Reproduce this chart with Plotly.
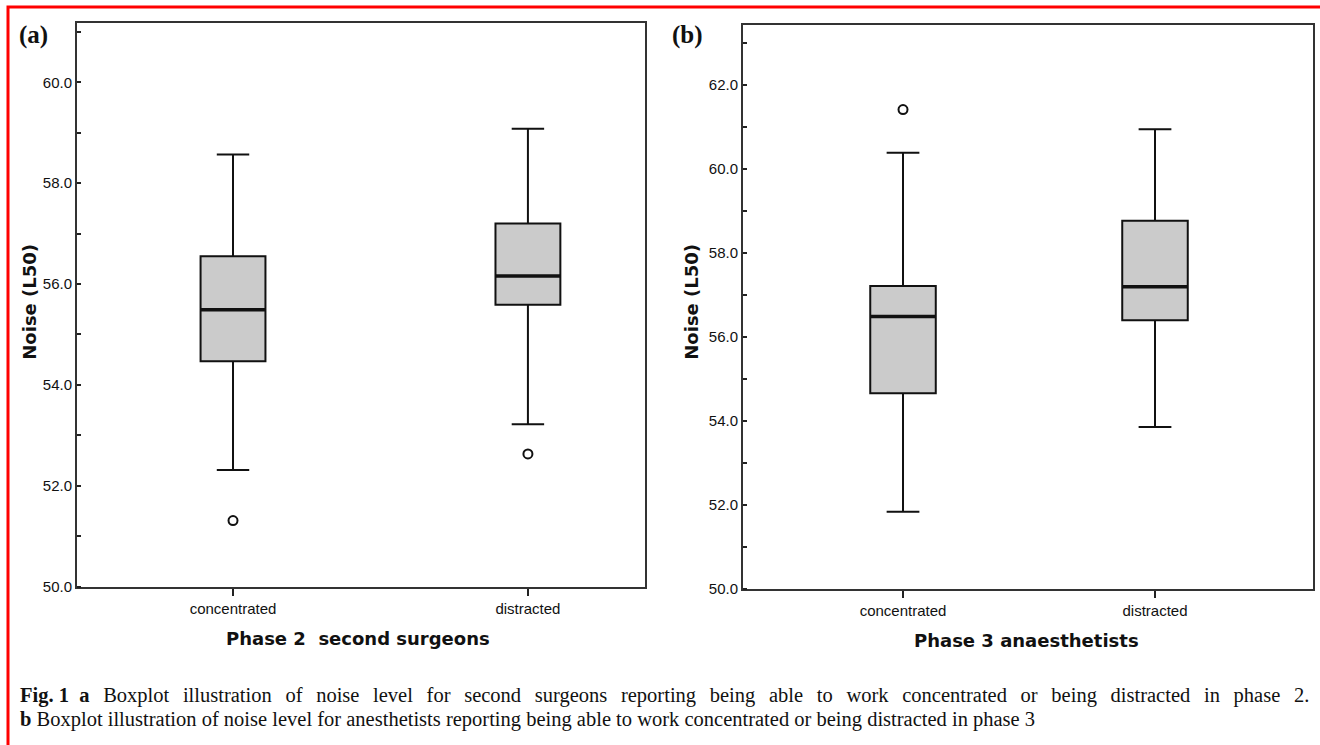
import plotly.graph_objects as go

# ---- data ----
categories = ["concentrated", "distracted"]

# Panel (a): Phase 2 second surgeons
a_q1 = [54.47, 55.59]
a_median = [55.49, 56.16]
a_q3 = [56.55, 57.20]
a_low = [52.31, 53.22]
a_high = [58.57, 59.08]
a_out_x = [0, 1]
a_out_y = [51.31, 52.63]

# Panel (b): Phase 3 anaesthetists
b_q1 = [54.65, 56.39]
b_median = [56.48, 57.19]
b_q3 = [57.21, 58.76]
b_low = [51.83, 53.85]
b_high = [60.38, 60.94]
b_out_x = [0]
b_out_y = [61.41]

y_ticks_a = [50, 52, 54, 56, 58, 60]
y_ticks_b = [50, 52, 54, 56, 58, 60, 62]

BOX_FILL = "#cbcbcb"
LINE = "#111111"
W_A = 0.22
W_B = 0.26

fig = go.Figure()


def add_panel(xa, ya, q1, med, q3, lo, hi, ox, oy, w):
    pos = list(range(len(categories)))
    fig.add_trace(go.Box(
        x=pos, q1=q1, median=med, q3=q3, lowerfence=lo, upperfence=hi,
        width=w, whiskerwidth=0.5, fillcolor=BOX_FILL,
        line=dict(color=LINE, width=2), boxpoints=False,
        xaxis=xa, yaxis=ya, showlegend=False, hoverinfo="skip"))
    for i, m in enumerate(med):
        fig.add_trace(go.Scatter(
            x=[i - w / 2, i + w / 2], y=[m, m], mode="lines",
            line=dict(color=LINE, width=3.5), xaxis=xa, yaxis=ya,
            showlegend=False, hoverinfo="skip"))
    fig.add_trace(go.Scatter(
        x=ox, y=oy, mode="markers",
        marker=dict(symbol="circle-open", size=9, color=LINE, line=dict(width=2)),
        xaxis=xa, yaxis=ya, showlegend=False, hoverinfo="skip"))


add_panel("x", "y", a_q1, a_median, a_q3, a_low, a_high, a_out_x, a_out_y, W_A)
add_panel("x2", "y2", b_q1, b_median, b_q3, b_low, b_high, b_out_x, b_out_y, W_B)

tick_font = dict(family="Liberation Sans, Arial, sans-serif", size=15, color="#111")
frame = dict(showline=True, linecolor="#333", linewidth=2, mirror=True,
             showgrid=False, zeroline=False)

xcommon = dict(tickvals=[0, 1], ticktext=categories, ticks="outside",
               ticklen=7, tickwidth=2, tickcolor="#222", tickfont=tick_font, **frame)
ycommon = dict(ticks="", tickformat=".1f", tickfont=tick_font,
               minor=dict(dtick=1, ticks="inside", ticklen=4, tickwidth=1.5,
                          tickcolor="#222", showgrid=False), **frame)

fig.update_layout(
    width=1320, height=745,
    margin=dict(l=0, r=0, t=0, b=0),
    paper_bgcolor="white", plot_bgcolor="white",
    xaxis=dict(domain=[77 / 1320, 645 / 1320], range=[-0.529, 1.397], anchor="y", **xcommon),
    yaxis=dict(domain=[1 - 593 / 745, 1 - 23 / 745], range=[50, 61.18], anchor="x",
               tickvals=y_ticks_a, **ycommon),
    xaxis2=dict(domain=[743 / 1320, 1313 / 1320], range=[-0.635, 1.627], anchor="y2", **xcommon),
    yaxis2=dict(domain=[1 - 595 / 745, 1 - 25 / 745], range=[50, 63.43], anchor="x2",
                tickvals=y_ticks_b, **ycommon),
)

title_font = dict(family="DejaVu Sans, Verdana, sans-serif", size=18, color="#111")


def ann(text, x, y, xanchor="center", **kw):
    base = dict(text=text, x=x / 1320, y=1 - y / 745, xref="paper", yref="paper",
                showarrow=False, xanchor=xanchor, yanchor="middle")
    base.update(kw)
    fig.add_annotation(**base)


ann("<b>Noise (L50)</b>", 30, 305, textangle=-90, font=title_font)
ann("<b>Noise (L50)</b>", 692, 305, textangle=-90, font=title_font)
ann("<b>Phase 2  second surgeons</b>", 358, 645, font=title_font)
ann("<b>Phase 3 anaesthetists</b>", 1026, 647, font=title_font)

label_font = dict(family="Liberation Serif, Times New Roman, serif", size=25, color="#111")
ann("<b>(a)</b>", 17, 35, xanchor="left", font=label_font)
ann("<b>(b)</b>", 670, 35, xanchor="left", font=label_font)

cap_font = dict(family="Liberation Serif, Times New Roman, serif", size=20.5, color="#111")
line1_words = ["<b>Fig. 1</b>\u2002<b>a</b>", "Boxplot", "illustration", "of", "noise", "level",
               "for", "second", "surgeons", "reporting", "being", "able", "to", "work",
               "concentrated", "or", "being", "distracted", "in", "phase", "2."]
# justified first line: widen the word gaps
line1 = line1_words[0]
for i, w in enumerate(line1_words[1:]):
    line1 += " \u2004\u200a" + w
ann(line1, 18, 703, xanchor="left", font=cap_font)
ann("<b>b</b> Boxplot illustration of noise level for anesthetists reporting being able to work "
    "concentrated or being distracted in phase 3",
    18, 727, xanchor="left", font=cap_font)

fig.add_shape(type="rect", xref="paper", yref="paper",
              x0=8 / 1320, x1=1.02, y0=-0.02, y1=1 - 7 / 745,
              line=dict(color="red", width=3), fillcolor="rgba(0,0,0,0)")

fig.write_html("out.html", config={"displayModeBar": False},
               post_script="document.body.style.margin='0';document.body.style.overflow='hidden';")
